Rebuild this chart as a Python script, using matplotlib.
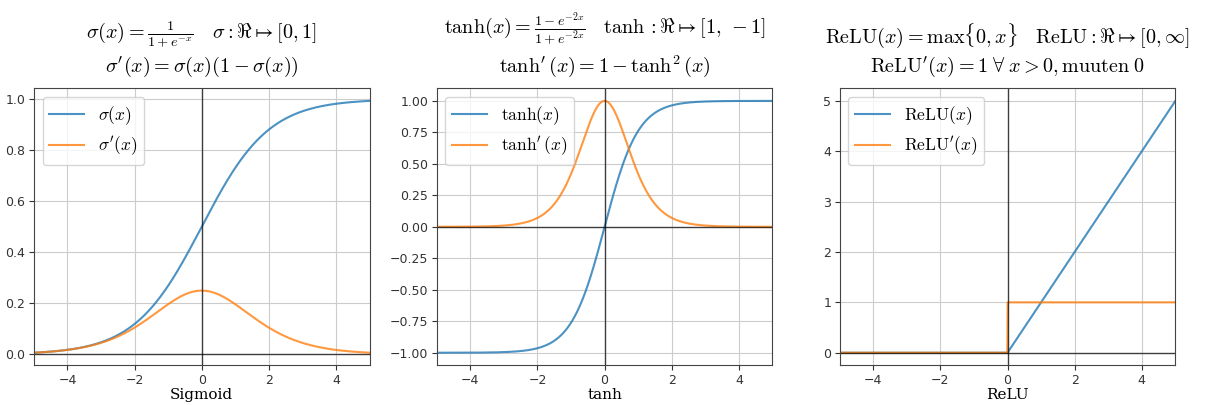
import matplotlib
matplotlib.use('Agg')
import matplotlib.pyplot as plt
import numpy as np

plt.rcParams['mathtext.fontset'] = 'cm'

x_min, x_max = -5, 5
n_points = 1000
xticks = [-4, -2, 0, 2, 4]

titles = [
    r'$\sigma(x)=\frac{1}{1+e^{-x}}\quad\sigma:\Re\mapsto[0,1]$' + '\n' +
    r'$\sigma^{\prime}(x)=\sigma(x)(1-\sigma(x))$',
    r'$\tanh(x)=\frac{1-e^{-2x}}{1+e^{-2x}}\quad\tanh:\Re\mapsto[1,\,-1]$' + '\n' +
    r'$\tanh^{\prime}(x)=1-\tanh^{2}(x)$',
    r'$\mathrm{ReLU}(x)=\max\{0,x\}\quad\mathrm{ReLU}:\Re\mapsto[0,\infty]$' + '\n' +
    r'$\mathrm{ReLU}^{\prime}(x)=1\;\forall\;x>0,\mathrm{muuten}\;0$',
]
xlabels = ['Sigmoid', 'tanh', 'ReLU']
labels_f = [r'$\sigma(x)$', r'$\tanh(x)$', r'$\mathrm{ReLU}(x)$']
labels_df = [r'$\sigma^{\prime}(x)$', r'$\tanh^{\prime}(x)$', r'$\mathrm{ReLU}^{\prime}(x)$']

x = np.linspace(x_min, x_max, n_points)
sig = 1 / (1 + np.exp(-x))
th = np.tanh(x)
relu = np.maximum(0, x)
curves = [
    (sig, sig * (1 - sig)),
    (th, 1 - th ** 2),
    (relu, (x > 0).astype(float)),
]

fig, axes = plt.subplots(1, 3, figsize=(12.08, 4.05), dpi=100)
fig.subplots_adjust(left=0.028, right=0.973, top=0.782, bottom=0.098, wspace=0.2)

for i, ax in enumerate(axes):
    f, df = curves[i]
    ax.plot(x, f, color='tab:blue', alpha=0.8, lw=1.5, label=labels_f[i])
    ax.plot(x, df, color='tab:orange', alpha=0.8, lw=1.5, label=labels_df[i])
    ax.axhline(0, color='black', lw=1, alpha=0.7)
    ax.axvline(0, color='black', lw=1, alpha=0.7)
    ax.set_xlim(x_min, x_max)
    ax.set_xticks(xticks)
    ax.grid(True, color='#cccccc', lw=0.8)
    ax.set_title(titles[i], fontsize=14.5, linespacing=1.25, pad=12)
    ax.set_xlabel(xlabels[i], fontsize=11, family='DejaVu Serif', labelpad=1)
    ax.tick_params(labelsize=9, colors='#333333', pad=2.5)
    for s in ax.spines.values():
        s.set_color('#444444')
    ax.legend(loc='upper left', fontsize=12.5)

fig.savefig('out.png', dpi=100)
